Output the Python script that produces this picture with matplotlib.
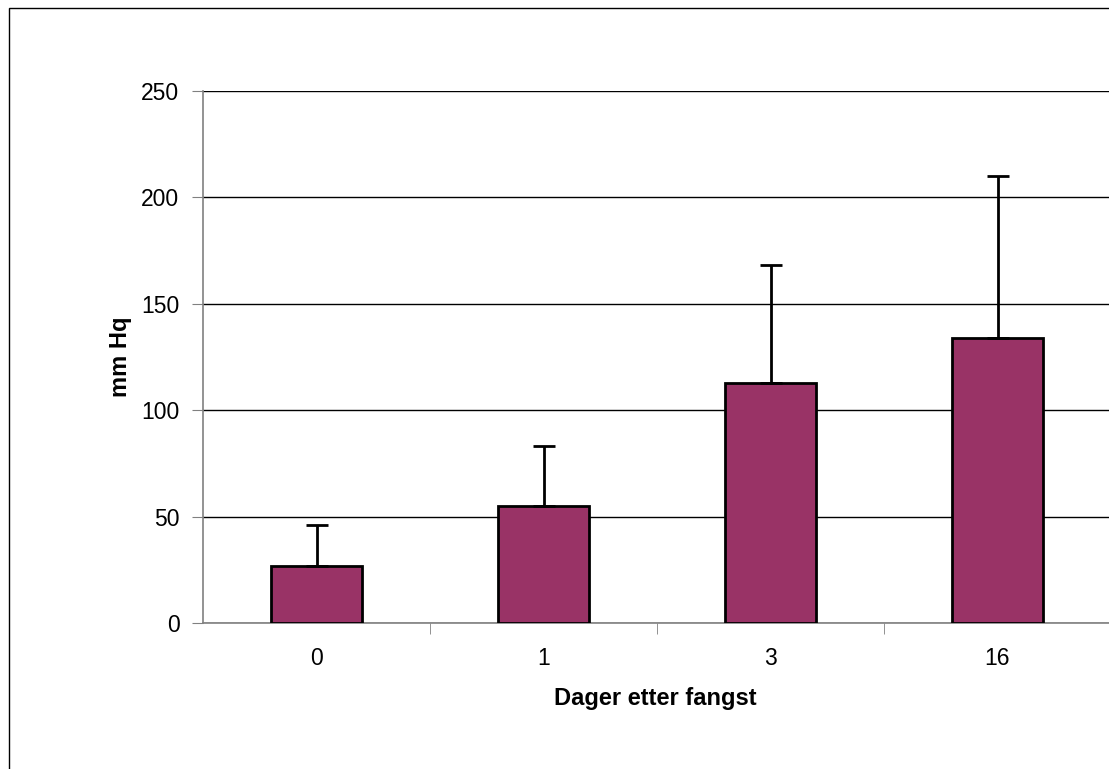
import matplotlib.pyplot as plt
from matplotlib.patches import Rectangle

plt.rcParams['font.family'] = ['Liberation Sans', 'DejaVu Sans']

# ── Data ──────────────────────────────────────────────────────────────────────
days = ['0', '1', '3', '16']
pressure = [27, 55, 113, 134]
err_up = [19, 28, 55, 76]

BAR_COLOR = '#993366'

fig = plt.figure(figsize=(11.09, 7.69), dpi=100)
fig.patch.set_facecolor('white')

# outer chart frame (right/bottom edges fall off the picture)
fig.add_artist(Rectangle((9 / 1109, -0.1), 1.2, 1.1 - 8 / 769,
                         transform=fig.transFigure, fill=False,
                         edgecolor='black', lw=1.0, clip_on=False))

# plot area runs slightly past the right edge of the picture
ax = fig.add_axes([203 / 1109, 1 - 623 / 769, (1111 - 203) / 1109, (623 - 91) / 769])

x = list(range(len(days)))
ax.bar(x, pressure, width=0.40, color=BAR_COLOR, edgecolor='black', lw=2, zorder=3)
ax.errorbar(x, pressure, yerr=[[0] * len(x), err_up], fmt='none',
            ecolor='black', elinewidth=2, capsize=8, capthick=2, zorder=4)

ax.set_xlim(-0.5, len(days) - 0.5)
ax.set_ylim(0, 250)
ax.set_yticks(range(0, 251, 50))
ax.set_xticks(x)
ax.set_xticklabels(days)
ax.set_xticks([i + 0.5 for i in range(len(days) - 1)], minor=True)

ax.yaxis.grid(True, color='black', lw=1)
ax.set_axisbelow(True)

for s in ('top', 'right'):
    ax.spines[s].set_visible(False)
for s in ('left', 'bottom'):
    ax.spines[s].set_color('#808080')
    ax.spines[s].set_linewidth(1.2)

ax.tick_params(axis='y', direction='out', length=8, color='#808080',
               labelsize=16.5, pad=9)
ax.tick_params(axis='x', which='major', length=0, labelsize=16.5, pad=17)
ax.tick_params(axis='x', which='minor', direction='out', length=8, color='#808080')

ax.set_ylabel('mm Hq', fontsize=17, fontweight='bold', va='center', ha='center')
ax.yaxis.set_label_coords((121 - 203) / 908, 0.5)
ax.set_xlabel('Dager etter fangst', fontsize=17, fontweight='bold', va='center', ha='center')
ax.xaxis.set_label_coords((655 - 203) / 908, (623 - 698) / 532)

fig.savefig('out.png', dpi=100, facecolor='white')
